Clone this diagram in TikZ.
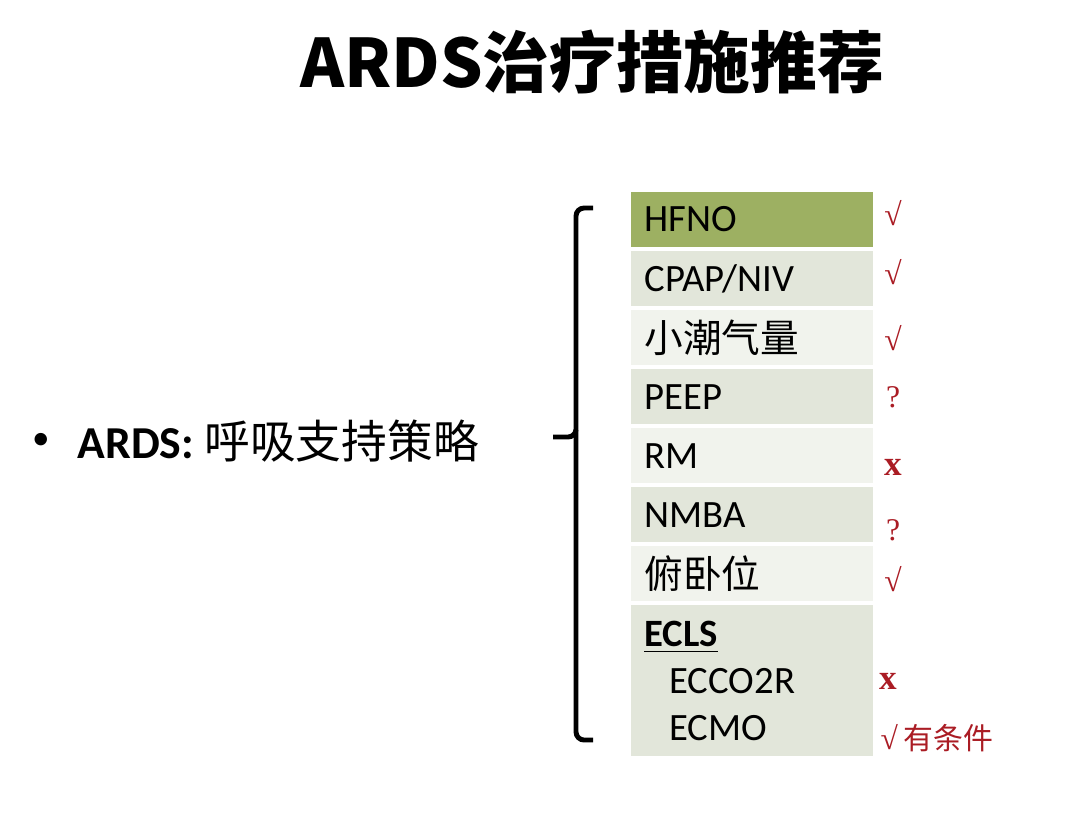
\documentclass[tikz,border=0pt]{standalone}
\usepackage{fontspec}
\setmainfont{Carlito}
\newfontfamily\cjk{Noto Sans CJK SC}
\newfontfamily\markfont{Liberation Serif}
\usetikzlibrary{positioning}
\definecolor{hfno-green}{RGB}{157,176,98}
\definecolor{row-dark}{RGB}{226,230,218}
\definecolor{row-light}{RGB}{241,243,237}
\definecolor{mark-red}{RGB}{170,28,36}

\begin{document}
\begin{tikzpicture}[x=0.01cm, y=-0.01cm, node distance=0.04cm,
	   row/.style={anchor=north, minimum width=2.41cm, minimum height=0.55cm, text width=2.15cm,
	     inner xsep=0.13cm, inner ysep=0pt, outer sep=0pt, align=left, font=\fontsize{11}{13.4}\selectfont},
	   mk/.style={text=mark-red, inner sep=0pt, font=\markfont\fontsize{9}{10}\selectfont}]
	  \useasboundingbox (0,0) rectangle (1080,818);
	  % title
	  \node[font=\cjk\bfseries\fontsize{19}{22}\selectfont] (title) at (592,62) {ARDS治疗措施推荐};
	  % left item
	  \node[font=\fontsize{10}{12}\selectfont, inner sep=0pt] (dot) at (41,441) {•};
	  \node[font=\fontsize{13}{15}\selectfont, anchor=west, inner sep=0pt] (ards) at (77,441)
	    {\textbf{ARDS:} {\cjk 呼吸支持策略}};
	  % table rows
	  \node[row, fill=hfno-green] (hfno) at (752,192) {HFNO};
	  \node[row, fill=row-dark, below=of hfno] (cpap) {CPAP/NIV};
	  \node[row, fill=row-light, below=of cpap] (vt) {\cjk 小潮气量};
	  \node[row, fill=row-dark, below=of vt] (peep) {PEEP};
	  \node[row, fill=row-light, below=of peep] (rm) {RM};
	  \node[row, fill=row-dark, below=of rm] (nmba) {NMBA};
	  \node[row, fill=row-light, below=of nmba] (prone) {\cjk 俯卧位};
	  \node[row, fill=row-dark, below=of prone, minimum height=1.51cm] (ecls)
	    {\underline{\textbf{ECLS}}\\\hspace*{0.25cm}ECCO2R\\\hspace*{0.25cm}ECMO};
	  % brace
	  \coordinate (btop) at (593,208);
	  \coordinate (bmid) at (553,437);
	  \coordinate (bbot) at (593,740);
	  \draw[line width=1.4pt, rounded corners=0.08cm] (btop) -| (576,437) -- (bmid);
	  \draw[line width=1.4pt, rounded corners=0.08cm] (576,430) |- (bbot);
	  % marks
	  \node[mk] (m-hfno) at (893,213) {√};
	  \node[mk] (m-cpap) at (893,272) {√};
	  \node[mk] (m-vt) at (893,338) {√};
	  \node[mk] (m-peep) at (893,397) {?};
	  \node[mk, font=\markfont\bfseries\fontsize{10}{11}\selectfont] (m-rm) at (893,467) {x};
	  \node[mk] (m-nmba) at (893,530) {?};
	  \node[mk] (m-prone) at (893,579) {√};
	  \node[mk, font=\markfont\bfseries\fontsize{10}{11}\selectfont] (m-ecco) at (888,681) {x};
	  \node[mk, anchor=west] (m-ecmo) at (880,738) {√\,{\cjk\fontsize{8.5}{10}\selectfont 有条件}};
	\end{tikzpicture}
\end{document}
